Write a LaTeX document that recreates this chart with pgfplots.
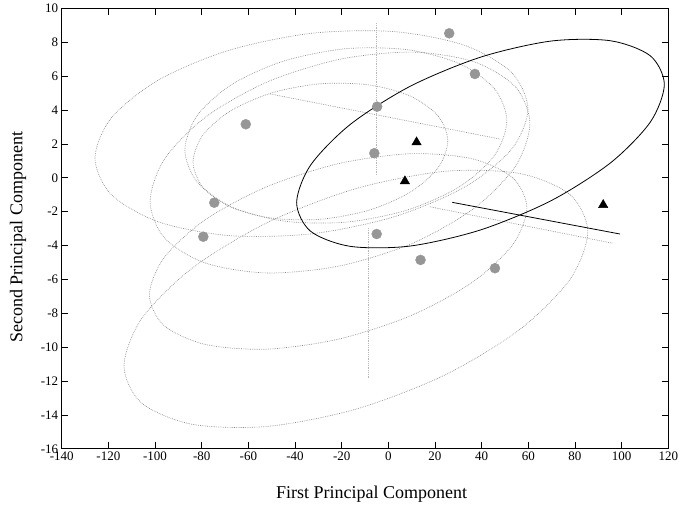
\documentclass[border=0pt]{standalone}
\usepackage{pgfplots}
\pgfplotsset{compat=1.18}
\usepackage{fontspec}
\setmainfont{Liberation Serif}
\definecolor{ptgray}{RGB}{150,150,150}
\definecolor{elgray}{RGB}{135,135,135}
\begin{document}
\begin{tikzpicture}
\begin{axis}[
  at={(0,0)}, anchor=south west,
  scale only axis, width=606.6pt, height=440.4pt,
  xmin=-140, xmax=120, ymin=-16, ymax=10,
  xtick={-140,-120,...,120},
  xticklabels={-140,-120,-100,-80,-60,-40,-20,0,20,40,60,80,100,120},
  ytick={-16,-14,...,10},
  yticklabels={-16,-14,-12,-10,-8,-6,-4,-2,0,2,4,6,8,10},
  tick align=inside, tick pos=both, major tick length=6.5pt,
  tick style={black, line width=0.8pt},
  axis line style={line width=0.9pt},
  tick label style={font=\fontsize{13}{15}\selectfont},
  label style={font=\fontsize{18}{20}\selectfont},
  xlabel={First Principal Component},
  ylabel={Second Principal Component},
  xlabel style={at={(axis description cs:0.511,-0.1026)}, anchor=center},
  ylabel style={at={(axis description cs:-0.072,0.48)}, anchor=center, rotate=0},
  el/.style={elgray, line width=0.65pt, dash pattern=on 0.7pt off 1.1pt, mark=none, smooth cycle},
  ln/.style={elgray, line width=0.65pt, dash pattern=on 0.7pt off 1.1pt, mark=none},
]
% gray confidence ellipses
\addplot[el] coordinates {(59.85,4.06) (52.79,6.22) (32.67,7.82) (2.56,8.63) (-32.95,8.53) (-68.46,7.52) (-98.57,5.77) (-118.69,3.54) (-125.75,1.16) (-118.69,-1.00) (-98.57,-2.60) (-68.46,-3.41) (-32.95,-3.31) (2.56,-2.30) (32.67,-0.55) (52.79,1.68)};
\addplot[el] coordinates {(50.8,3.36) (45.55,5.25) (30.59,6.73) (8.21,7.56) (-18.2,7.62) (-44.61,6.90) (-66.99,5.52) (-81.95,3.67) (-87.2,1.64) (-81.95,-0.25) (-66.99,-1.73) (-44.61,-2.56) (-18.2,-2.62) (8.21,-1.90) (30.59,-0.52) (45.55,1.33)};
\addplot[el] coordinates {(25.5,2.17) (21.34,3.65) (9.51,4.82) (-8.2,5.48) (-29.1,5.55) (-50.0,5.01) (-67.71,3.94) (-79.54,2.51) (-83.7,0.93) (-79.54,-0.55) (-67.71,-1.72) (-50.0,-2.38) (-29.1,-2.45) (-8.2,-1.91) (9.51,-0.84) (21.34,0.59)};
\addplot[el] coordinates {(60.7,3.20) (54.51,5.36) (36.86,6.84) (10.45,7.42) (-20.7,7.00) (-51.85,5.66) (-78.26,3.59) (-95.91,1.11) (-102.1,-1.40) (-95.91,-3.56) (-78.26,-5.04) (-51.85,-5.62) (-20.7,-5.20) (10.45,-3.86) (36.86,-1.79) (54.51,0.69)};
\addplot[el] coordinates {(59.4,-1.78) (53.24,0.01) (35.7,1.13) (9.46,1.42) (-21.5,0.83) (-52.46,-0.55) (-78.7,-2.50) (-96.24,-4.74) (-102.4,-6.92) (-96.24,-8.71) (-78.7,-9.83) (-52.46,-10.12) (-21.5,-9.53) (9.46,-8.15) (35.7,-6.20) (53.24,-3.96)};
\addplot[el] coordinates {(85.5,-3.19) (77.94,-1.00) (56.39,0.25) (24.14,0.38) (-13.9,-0.64) (-51.94,-2.65) (-84.19,-5.35) (-105.74,-8.32) (-113.3,-11.11) (-105.74,-13.30) (-84.19,-14.55) (-51.94,-14.68) (-13.9,-13.66) (24.14,-11.65) (56.39,-8.95) (77.94,-5.98)};
% gray degenerate axes
\addplot[ln] coordinates {(-50.7,4.95) (47.8,2.29)};
\addplot[ln, elgray!60] coordinates {(-5.3,9.14) (-5.3,0.17)};
\addplot[ln, elgray!60] coordinates {(-8.6,-2.96) (-8.6,-11.82)};
\addplot[ln] coordinates {(17.8,-1.71) (96.4,-3.87)};
% black ellipse and line
\addplot[black, line width=0.8pt, mark=none, smooth cycle] coordinates {(118.3,5.51) (112.3,7.20) (95.22,8.09) (69.66,8.07) (39.5,7.12) (9.34,5.40) (-16.22,3.16) (-33.3,0.75) (-39.3,-1.47) (-33.3,-3.16) (-16.22,-4.05) (9.34,-4.03) (39.5,-3.08) (69.66,-1.36) (95.22,0.88) (112.3,3.29)};
\addplot[black, line width=0.8pt, mark=none] coordinates {(27.4,-1.45) (99.3,-3.32)};
% points
\addplot[only marks, mark=*, mark size=5pt, mark options={ptgray}] coordinates {(26.1,8.53) (37.1,6.13) (-4.8,4.20) (-61.1,3.16) (-6.0,1.45) (-74.6,-1.47) (-79.3,-3.48) (-5.0,-3.32) (13.8,-4.85) (45.7,-5.34)};
\addplot[only marks, mark=triangle*, mark size=5.4pt, mark options={black}] coordinates {(12.1,2.1) (7.1,-0.2) (92.1,-1.6)};
\end{axis}
\pgfresetboundingbox
\path (-61.7pt,-57.2pt) rectangle (621.3pt,448.8pt);
\end{tikzpicture}
\end{document}
